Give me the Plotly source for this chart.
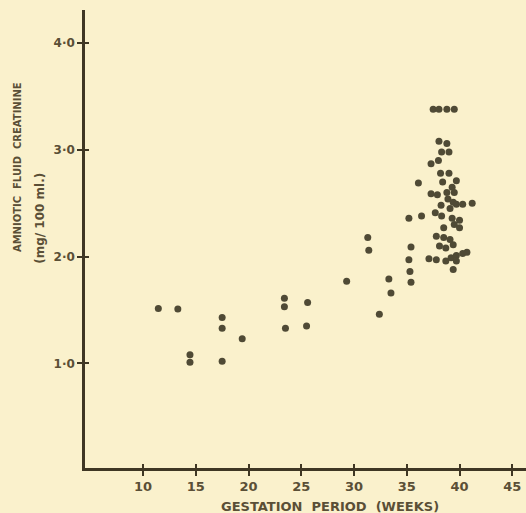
import plotly.graph_objects as go

# Gestation period (weeks) and amniotic fluid creatinine (mg/100 ml)
weeks = [11.45, 13.3, 14.45, 14.45, 17.5, 17.5, 17.5, 19.4, 23.4, 23.4, 23.5, 25.6, 25.5,
         29.3, 31.3, 31.4, 32.4, 33.3, 33.5,
         35.2, 35.4, 35.2, 35.3, 35.4, 36.4, 36.1,
         37.5, 38.05, 38.8, 39.5,
         38.05, 38.8, 38.3, 39.0, 37.3, 38.0, 38.2, 39.0,
         38.4, 39.7, 39.3, 37.3, 37.9, 38.8, 39.5, 38.9, 39.4, 39.7, 40.3, 41.2, 38.25, 39.1,
         37.7, 38.3, 39.3, 40.0, 39.5, 38.5, 40.0,
         37.8, 38.5, 39.1, 38.1, 38.7, 39.4,
         37.1, 37.8, 38.7, 39.2, 39.7, 40.3, 40.7, 39.7, 39.4]
creatinine = [1.515, 1.51, 1.08, 1.01, 1.43, 1.33, 1.02, 1.23, 1.61, 1.53, 1.33, 1.57, 1.35,
              1.77, 2.18, 2.06, 1.46, 1.79, 1.66,
              2.36, 2.09, 1.97, 1.86, 1.76, 2.38, 2.69,
              3.38, 3.38, 3.38, 3.38,
              3.08, 3.06, 2.98, 2.98, 2.87, 2.90, 2.78, 2.78,
              2.70, 2.71, 2.65, 2.59, 2.58, 2.60, 2.60, 2.54, 2.51, 2.49, 2.49, 2.50, 2.48, 2.45,
              2.41, 2.38, 2.36, 2.34, 2.30, 2.27, 2.27,
              2.19, 2.18, 2.16, 2.10, 2.08, 2.11,
              1.98, 1.97, 1.96, 1.99, 2.01, 2.03, 2.04, 1.96, 1.88]

x_ticks = [10, 15, 20, 25, 30, 35, 40, 45]
x_ticktext = ["10", "15", "20", "25", "30", "35", "40", "45"]
y_ticks = [1, 2, 3, 4]
y_ticktext = ["1·0", "2·0", "3·0", "4·0"]

ink = "#3f3724"
text_ink = "#5a4f36"
dot = "#4f4a35"
bg = "#FAF1CC"
font = "DejaVu Sans"

x_range = [4.5, 46.3]
y_range = [0.02, 4.31]

fig = go.Figure()
fig.add_trace(go.Scatter(x=weeks, y=creatinine, mode="markers",
                         marker=dict(size=7, color=dot), showlegend=False))
# invisible trace for overlay axes (ticks crossing the axis lines)
fig.add_trace(go.Scatter(x=[None], y=[None], xaxis="x2", yaxis="y2", showlegend=False))

fig.update_layout(
    width=526, height=513,
    margin=dict(l=85, r=0, t=10, b=45),
    paper_bgcolor=bg, plot_bgcolor=bg,
    xaxis=dict(range=x_range, tickvals=x_ticks, ticktext=x_ticktext,
               ticks="outside", ticklen=5, tickwidth=2, tickcolor=ink,
               showline=True, linewidth=2.5, linecolor=ink, showgrid=False, zeroline=False,
               tickfont=dict(family=font, size=13, color=text_ink, weight="bold")),
    yaxis=dict(range=y_range, tickvals=y_ticks, ticktext=y_ticktext,
               ticks="outside", ticklen=5, tickwidth=2, tickcolor=ink,
               showline=True, linewidth=2.5, linecolor=ink, showgrid=False, zeroline=False,
               tickfont=dict(family=font, size=12, color=text_ink, weight="bold")),
    xaxis2=dict(range=x_range, overlaying="x", tickvals=x_ticks, showticklabels=False,
                ticks="inside", ticklen=4, tickwidth=2, tickcolor=ink,
                showline=False, showgrid=False, zeroline=False, side="bottom", anchor="y2"),
    yaxis2=dict(range=y_range, overlaying="y", tickvals=y_ticks, showticklabels=False,
                ticks="inside", ticklen=4, tickwidth=2, tickcolor=ink,
                showline=False, showgrid=False, zeroline=False, side="left", anchor="x2"),
    annotations=[
        dict(text="AMNIOTIC  FLUID  CREATININE", xref="paper", yref="paper",
             x=0, y=0.657, xshift=-68, textangle=-90, showarrow=False,
             xanchor="center", yanchor="middle",
             font=dict(family=font, size=10, color=text_ink, weight="bold")),
        dict(text="(mg/ 100 ml.)", xref="paper", yref="paper",
             x=0, y=0.544, xshift=-45, textangle=-90, showarrow=False,
             xanchor="center", yanchor="middle",
             font=dict(family=font, size=12, color=text_ink, weight="bold")),
        dict(text="GESTATION  PERIOD  (WEEKS)", xref="paper", yref="paper",
             x=0.556, y=0, yshift=-38, showarrow=False,
             xanchor="center", yanchor="middle",
             font=dict(family=font, size=13, color=text_ink, weight="bold")),
    ],
)

fig.write_html("out.html", config={"displayModeBar": False},
               post_script="document.body.style.margin='0';document.body.style.background='%s';" % bg)
